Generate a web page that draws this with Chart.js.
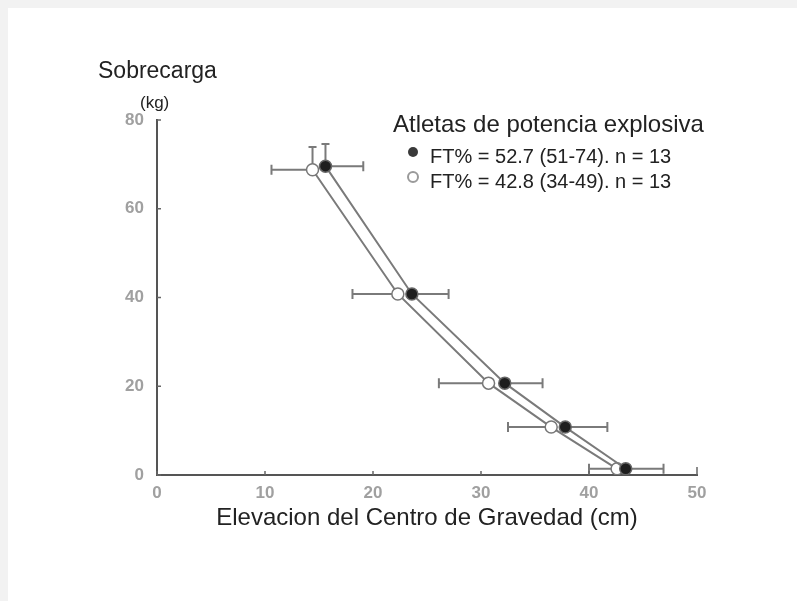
<!DOCTYPE html>
<html><head><meta charset="utf-8">
<script src="https://cdn.jsdelivr.net/npm/chart.js@4"></script>
<style>
html,body{margin:0;padding:0;background:#f2f2f2;overflow:hidden;}
#wrap{position:absolute;left:8px;top:8px;width:789px;height:593px;background:#fff;}
canvas{display:block;}
</style></head><body>
<div id="wrap"><canvas id="c" width="789" height="593"></canvas></div>
<script>
// ---- data ----
const seriesLabels = ['FT% = 52.7 (51-74). n = 13', 'FT% = 42.8 (34-49). n = 13'];
const fastElevation = [15.6, 23.6, 32.2, 37.8, 43.4];   // filled points (cm)
const fastLoad      = [69.6, 40.8, 20.7, 10.8, 1.4];    // kg
const fastElevationHigh = [19.1, 27.0, 35.7, 41.7, 46.9]; // +SD (right arm)
const fastLoadHigh  = [74.6, null, null, null, null];    // +SD (upward arm)
const slowElevation = [14.4, 22.3, 30.7, 36.5, 42.6];   // open points (cm)
const slowLoad      = [68.8, 40.8, 20.7, 10.8, 1.4];
const slowElevationLow = [10.6, 18.1, 26.1, 32.5, 40.0]; // -SD (left arm)
const slowLoadHigh  = [73.9, null, null, null, null];
const xTicks = [0, 10, 20, 30, 40, 50];
const yTicks = [0, 20, 40, 60, 80];
const yTitle = 'Sobrecarga';
const yUnit = '(kg)';
const xTitle = 'Elevacion del Centro de Gravedad (cm)';
const legendTitle = 'Atletas de potencia explosiva';

const FONT = '"Liberation Sans", Arial, Helvetica, sans-serif';
const LINE = '#7a7a7a';

const toPts = (xs, ys) => xs.map((x, i) => ({x: x, y: ys[i]}));

const errorBars = {
  id: 'errorBars',
  beforeDatasetsDraw(chart) {
    const {ctx, scales: {x, y}} = chart;
    ctx.save();
    ctx.strokeStyle = LINE;
    ctx.lineWidth = 2;
    const hbar = (x0, x1, yv, capAt) => {
      const py = y.getPixelForValue(yv);
      const a = x.getPixelForValue(x0), b = x.getPixelForValue(x1);
      ctx.beginPath(); ctx.moveTo(a, py); ctx.lineTo(b, py);
      const c = x.getPixelForValue(capAt);
      ctx.moveTo(c, py - 5); ctx.lineTo(c, py + 5);
      ctx.stroke();
    };
    const vbar = (xv, y0, y1) => {
      const px = x.getPixelForValue(xv);
      const a = y.getPixelForValue(y0), b = y.getPixelForValue(y1);
      ctx.beginPath(); ctx.moveTo(px, a); ctx.lineTo(px, b);
      ctx.moveTo(px - 4, b); ctx.lineTo(px + 4, b);
      ctx.stroke();
    };
    fastElevation.forEach((v, i) => {
      hbar(v, fastElevationHigh[i], fastLoad[i], fastElevationHigh[i]);
      if (fastLoadHigh[i] != null) vbar(v, fastLoad[i], fastLoadHigh[i]);
    });
    slowElevation.forEach((v, i) => {
      hbar(slowElevationLow[i], v, slowLoad[i], slowElevationLow[i]);
      if (slowLoadHigh[i] != null) vbar(v, slowLoad[i], slowLoadHigh[i]);
    });
    ctx.restore();
  }
};

const decor = {
  id: 'decor',
  afterDraw(chart) {
    const {ctx, scales: {x, y}} = chart;
    ctx.save();
    // inward tick marks
    ctx.strokeStyle = '#666';
    ctx.lineWidth = 1.5;
    yTicks.forEach(v => {
      const py = y.getPixelForValue(v);
      ctx.beginPath(); ctx.moveTo(x.left, py); ctx.lineTo(x.left + 4, py); ctx.stroke();
    });
    xTicks.forEach(v => {
      const px = x.getPixelForValue(v);
      ctx.beginPath(); ctx.moveTo(px, y.bottom); ctx.lineTo(px, y.bottom - (v === 50 ? 8 : 4)); ctx.stroke();
    });
    // y-axis title
    ctx.fillStyle = '#222';
    ctx.textBaseline = 'alphabetic';
    ctx.textAlign = 'left';
    ctx.font = '23px ' + FONT;
    ctx.fillText(yTitle, 90, 70);
    ctx.font = '17px ' + FONT;
    ctx.fillText(yUnit, 132, 100);
    // legend
    ctx.font = '24px ' + FONT;
    ctx.fillText(legendTitle, 385, 124);
    ctx.font = '20px ' + FONT;
    const ds = chart.data.datasets;
    const rows = [144, 169];
    ds.forEach((d, i) => {
      const cy = rows[i];
      ctx.beginPath();
      ctx.arc(405, cy, 5, 0, Math.PI * 2);
      if (i === 0) { ctx.fillStyle = '#3a3a3a'; ctx.fill(); }
      else { ctx.fillStyle = '#fff'; ctx.fill(); ctx.strokeStyle = '#9a9a9a'; ctx.lineWidth = 2; ctx.stroke(); }
      ctx.fillStyle = '#222';
      ctx.fillText(d.label, 422, cy + 11);
    });
    ctx.restore();
  }
};

new Chart(document.getElementById('c'), {
  type: 'scatter',
  data: {
    datasets: [
      {
        label: seriesLabels[0],
        data: toPts(fastElevation, fastLoad),
        showLine: true,
        borderColor: LINE,
        borderWidth: 2,
        backgroundColor: '#1e1e1e',
        pointBackgroundColor: '#1e1e1e',
        pointBorderColor: '#666',
        pointBorderWidth: 1.5,
        pointRadius: 6
      },
      {
        label: seriesLabels[1],
        data: toPts(slowElevation, slowLoad),
        showLine: true,
        borderColor: LINE,
        borderWidth: 2,
        backgroundColor: '#fff',
        pointBackgroundColor: '#fff',
        pointBorderColor: '#777',
        pointBorderWidth: 1.5,
        pointRadius: 6
      }
    ]
  },
  options: {
    responsive: false,
    animation: false,
    layout: {padding: {left: 100, right: 100, top: 112, bottom: 60}},
    plugins: {legend: {display: false}, tooltip: {enabled: false}},
    scales: {
      x: {
        type: 'linear', min: 0, max: 50,
        afterBuildTicks: s => { s.ticks = xTicks.map(v => ({value: v})); },
        afterFit: s => { s.height = 66; },
        grid: {display: false, drawTicks: false},
        border: {display: true, color: '#555', width: 2},
        ticks: {color: '#a0a0a0', font: {family: FONT, size: 17, weight: 'bold'}, padding: 8},
        title: {display: true, text: xTitle, color: '#222', font: {family: FONT, size: 24}, padding: {top: 0, bottom: 8}}
      },
      y: {
        type: 'linear', min: 0, max: 80,
        afterBuildTicks: s => { s.ticks = yTicks.map(v => ({value: v})); },
        afterFit: s => { s.width = 49; },
        grid: {display: false, drawTicks: false},
        border: {display: true, color: '#555', width: 2},
        ticks: {color: '#a0a0a0', font: {family: FONT, size: 17, weight: 'bold'}, padding: 13}
      }
    }
  },
  plugins: [errorBars, decor]
});
</script>
</body></html>
